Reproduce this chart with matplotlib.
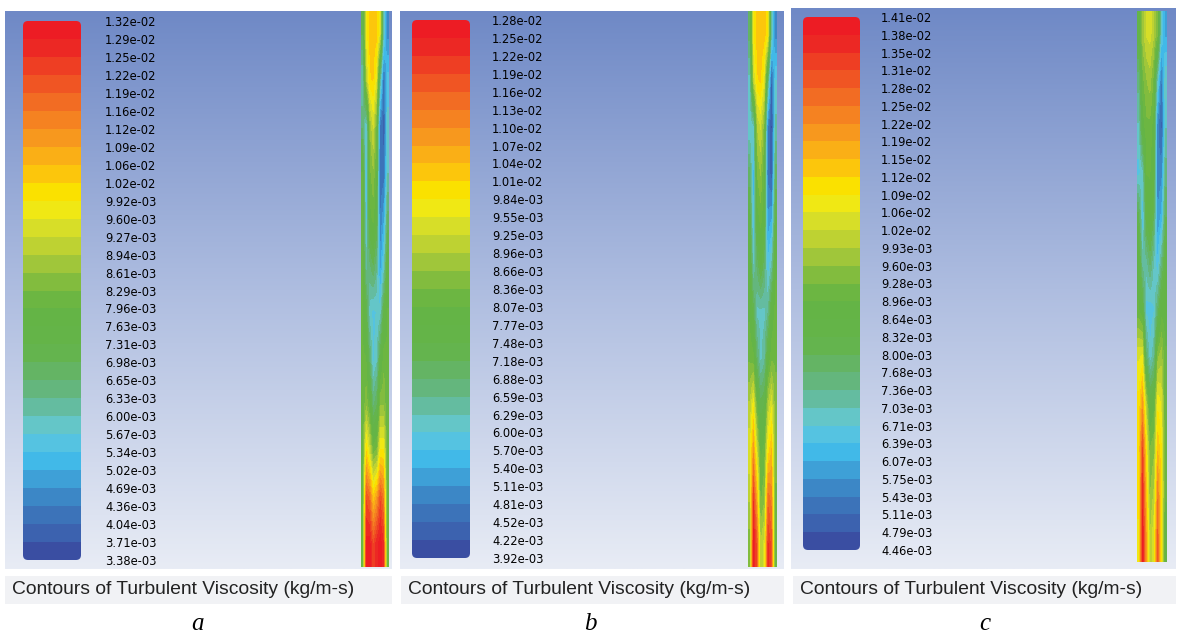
import numpy as np
import matplotlib.pyplot as plt
from matplotlib.colors import ListedColormap, BoundaryNorm, LinearSegmentedColormap
from matplotlib.patches import FancyBboxPatch

W, H = 1178, 637

caption = "Contours of Turbulent Viscosity (kg/m-s)"
letters = ["a", "b", "c"]

# colorbar labels, top to bottom
labels_a = ["1.32e-02", "1.29e-02", "1.25e-02", "1.22e-02", "1.19e-02", "1.16e-02",
            "1.12e-02", "1.09e-02", "1.06e-02", "1.02e-02", "9.92e-03", "9.60e-03",
            "9.27e-03", "8.94e-03", "8.61e-03", "8.29e-03", "7.96e-03", "7.63e-03",
            "7.31e-03", "6.98e-03", "6.65e-03", "6.33e-03", "6.00e-03", "5.67e-03",
            "5.34e-03", "5.02e-03", "4.69e-03", "4.36e-03", "4.04e-03", "3.71e-03",
            "3.38e-03"]
labels_b = ["1.28e-02", "1.25e-02", "1.22e-02", "1.19e-02", "1.16e-02", "1.13e-02",
            "1.10e-02", "1.07e-02", "1.04e-02", "1.01e-02", "9.84e-03", "9.55e-03",
            "9.25e-03", "8.96e-03", "8.66e-03", "8.36e-03", "8.07e-03", "7.77e-03",
            "7.48e-03", "7.18e-03", "6.88e-03", "6.59e-03", "6.29e-03", "6.00e-03",
            "5.70e-03", "5.40e-03", "5.11e-03", "4.81e-03", "4.52e-03", "4.22e-03",
            "3.92e-03"]
labels_c = ["1.41e-02", "1.38e-02", "1.35e-02", "1.31e-02", "1.28e-02", "1.25e-02",
            "1.22e-02", "1.19e-02", "1.15e-02", "1.12e-02", "1.09e-02", "1.06e-02",
            "1.02e-02", "9.93e-03", "9.60e-03", "9.28e-03", "8.96e-03", "8.64e-03",
            "8.32e-03", "8.00e-03", "7.68e-03", "7.36e-03", "7.03e-03", "6.71e-03",
            "6.39e-03", "6.07e-03", "5.75e-03", "5.43e-03", "5.11e-03", "4.79e-03",
            "4.46e-03"]

# contour field in the thin column (x1e-3 kg/m-s), rows top->bottom, cols left->right
field_a = [
    [7.0, 9.8, 10.4, 10.5, 10.4, 9.6, 6.0, 4.6],
    [6.0, 9.0, 10.2, 10.3, 9.6, 6.4, 4.2, 5.5],
    [6.6, 5.6, 8.6, 9.4, 8.2, 4.3, 3.9, 5.8],
    [8.0, 5.4, 8.2, 8.6, 7.9, 4.1, 4.2, 6.0],
    [8.0, 5.5, 7.8, 8.1, 7.4, 4.4, 5.0, 6.8],
    [8.0, 6.2, 6.6, 7.0, 6.4, 4.9, 5.8, 7.6],
    [8.0, 7.4, 5.8, 5.6, 5.7, 5.8, 7.4, 8.0],
    [8.0, 8.0, 6.8, 5.6, 5.9, 7.4, 8.2, 8.0],
    [8.0, 8.6, 8.0, 6.6, 7.0, 8.6, 8.6, 8.0],
    [8.0, 10.3, 9.4, 8.2, 8.4, 10.0, 10.0, 8.0],
    [8.0, 12.2, 11.8, 10.4, 11.0, 12.2, 11.5, 8.0],
    [8.0, 13.0, 13.1, 12.2, 12.8, 13.1, 12.6, 8.0],
]
field_b = [
    [7.0, 9.8, 10.3, 10.4, 10.3, 10.0, 6.5, 5.0],
    [6.2, 9.2, 10.1, 10.2, 9.6, 7.0, 4.5, 6.0],
    [6.0, 6.2, 9.0, 9.3, 8.5, 4.9, 4.2, 6.4],
    [7.0, 5.6, 8.4, 8.7, 8.0, 4.7, 4.4, 7.0],
    [7.6, 5.7, 7.9, 8.2, 7.8, 5.2, 5.4, 7.5],
    [8.0, 6.3, 7.0, 7.6, 7.0, 5.8, 6.4, 8.0],
    [8.0, 7.4, 6.2, 6.2, 6.2, 6.6, 7.8, 8.2],
    [8.3, 8.2, 7.0, 6.2, 6.5, 7.8, 8.3, 8.3],
    [9.0, 9.8, 8.2, 7.3, 7.5, 9.0, 9.5, 8.5],
    [9.5, 11.0, 9.4, 8.0, 8.2, 10.0, 10.5, 8.5],
    [9.0, 12.2, 10.6, 8.3, 8.6, 11.5, 11.2, 8.3],
    [8.5, 12.7, 11.8, 9.0, 9.4, 12.3, 11.8, 8.2],
]
field_c = [
    [8.6, 9.8, 10.3, 10.4, 10.0, 9.4, 6.8, 6.0],
    [7.5, 9.2, 9.6, 9.8, 9.2, 7.0, 5.4, 7.0],
    [7.0, 8.8, 9.2, 9.2, 8.8, 5.6, 5.0, 7.0],
    [6.6, 7.0, 9.0, 9.0, 8.6, 5.5, 5.6, 7.5],
    [8.2, 6.5, 8.5, 8.8, 8.0, 5.8, 6.2, 8.0],
    [8.8, 7.2, 7.2, 7.8, 7.0, 6.5, 7.5, 8.6],
    [9.0, 8.6, 6.6, 6.5, 6.7, 7.8, 8.8, 8.8],
    [10.5, 10.6, 7.8, 6.8, 7.3, 9.5, 9.8, 9.0],
    [11.0, 12.0, 10.0, 8.5, 8.8, 10.8, 10.5, 9.0],
    [11.2, 13.2, 11.0, 9.3, 9.5, 11.5, 11.0, 9.0],
    [11.0, 13.8, 11.5, 9.6, 10.0, 12.5, 11.2, 9.0],
    [10.8, 14.0, 12.0, 10.0, 10.6, 13.0, 11.0, 8.8],
]

# fluent-style band colours, top (high) to bottom (low)
band_rgb = [
    (237, 28, 36), (236, 40, 36), (238, 62, 35), (240, 85, 35), (242, 108, 35),
    (245, 130, 33), (247, 152, 30), (250, 175, 22), (252, 198, 12), (250, 225, 0),
    (240, 232, 20), (215, 222, 40), (190, 210, 50), (160, 198, 58), (130, 188, 62),
    (108, 182, 66), (100, 180, 70), (100, 180, 72), (100, 180, 78), (100, 180, 100),
    (100, 182, 125), (100, 188, 160), (100, 198, 200), (85, 195, 225), (65, 185, 232),
    (62, 160, 215), (60, 135, 198), (60, 115, 185), (60, 98, 175), (58, 78, 162),
]
cmap = ListedColormap([(r / 255, g / 255, b / 255) for r, g, b in band_rgb[::-1]])
bg_cmap = LinearSegmentedColormap.from_list("bg", ["#6f89c6", "#aebde0", "#e8ecf5"])

fig = plt.figure(figsize=(W / 100, H / 100), dpi=100)
fig.patch.set_facecolor("white")


def px_axes(x0, y0, x1, y1):
    return fig.add_axes([x0 / W, 1 - y1 / H, (x1 - x0) / W, (y1 - y0) / H])


panels = [
    dict(labels=labels_a, field=field_a, box=(5, 11, 392, 569), bar=(23, 21, 81, 560),
         strip=(361, 11, 389, 567), cap=(5, 576, 392, 604), lx=197, pad=24),
    dict(labels=labels_b, field=field_b, box=(400, 11, 784, 569), bar=(412, 20, 470, 558),
         strip=(748, 11, 777, 567), cap=(401, 576, 784, 604), lx=590, pad=22),
    dict(labels=labels_c, field=field_c, box=(791, 8, 1176, 569), bar=(803, 17, 860, 550),
         strip=(1137, 11, 1167, 562), cap=(793, 576, 1176, 604), lx=985, pad=21),
]

for p, letter in zip(panels, letters):
    # background gradient
    bg = px_axes(*p["box"])
    bg.imshow(np.linspace(0, 1, 256)[:, None], cmap=bg_cmap, aspect="auto")
    bg.axis("off")

    vals = [float(s) for s in p["labels"]]
    levels = np.linspace(vals[-1], vals[0], len(vals))
    norm = BoundaryNorm(levels, cmap.N, clip=True)

    # colour bar
    x0, y0, x1, y1 = p["bar"]
    cb = px_axes(*p["bar"])
    mids = (levels[:-1] + levels[1:]) / 2
    mesh = cb.pcolormesh([0, 1], levels, mids[:, None], cmap=cmap, norm=norm)
    clip = FancyBboxPatch((0, 0), 1, 1, boxstyle="round,pad=0,rounding_size=0.08",
                          mutation_aspect=(x1 - x0) / (y1 - y0),
                          transform=cb.transAxes, facecolor="none", edgecolor="none")
    cb.add_patch(clip)
    mesh.set_clip_path(clip)
    cb.set_ylim(levels[0], levels[-1])
    cb.set_xlim(0, 1)
    cb.set_facecolor("none")
    for s in cb.spines.values():
        s.set_visible(False)
    cb.set_xticks([])
    cb.yaxis.tick_right()
    cb.set_yticks(levels)
    cb.set_yticklabels(p["labels"][::-1], family=["Liberation Sans Narrow", "DejaVu Sans"],
                       fontsize=8.3, color="#000000")
    cb.tick_params(axis="y", length=0, pad=p["pad"] * 0.72)

    # contour column
    st = px_axes(*p["strip"])
    st.imshow(np.array(p["field"]) * 1e-3, cmap=cmap, norm=norm, aspect="auto",
              interpolation="bilinear", interpolation_stage="data")
    st.axis("off")

    # caption band
    ca = px_axes(*p["cap"])
    ca.set_facecolor("#f1f2f5")
    ca.set_xticks([])
    ca.set_yticks([])
    for s in ca.spines.values():
        s.set_visible(False)
    ca.text(7 / (p["cap"][2] - p["cap"][0]), 0.5, caption, transform=ca.transAxes,
            va="center", ha="left", fontsize=13.9, family="Liberation Sans", color="#222222")

    fig.text(p["lx"] / W, 1 - 624 / H, letter, fontsize=18, style="italic",
             family="Liberation Serif", ha="center", va="center")

fig.savefig("out.png", dpi=100)
